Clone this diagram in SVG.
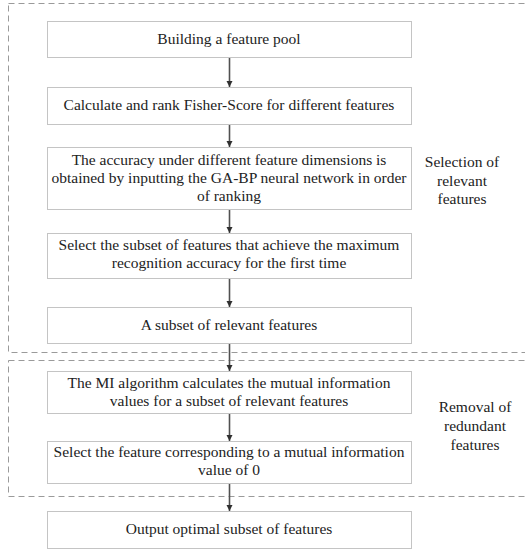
<svg xmlns="http://www.w3.org/2000/svg" width="525" height="551" viewBox="0 0 525 551">
<style>
.node rect{fill:#fff;stroke:#c4c4c4;stroke-width:1}
text{font-size:15.5px;fill:#222;text-anchor:middle}
.group{fill:none;stroke:#9a9a9a;stroke-width:1;stroke-dasharray:6 4}
.conn line{stroke:#505050;stroke-width:1.6;marker-end:url(#ah)}
</style>
<defs>
<marker id="ah" viewBox="0 0 10 10" refX="10" refY="5" markerWidth="4" markerHeight="4" orient="auto" markerUnits="strokeWidth">
<path d="M0,0L10,5L0,10z" fill="#303030"/>
</marker>
</defs>
<rect class="group" x="8.5" y="3.5" width="530" height="349"/>
<rect class="group" x="8.5" y="360.5" width="530" height="136"/>
<g font-family="Liberation Serif, Times New Roman, DejaVu Serif, Noto Serif, serif">
<g id="n1" class="node"><rect x="47.5" y="21.5" width="364" height="36"/><text x="229" y="44">Building a feature pool</text></g>
<g id="n2" class="node"><rect x="47.5" y="87.5" width="364" height="37"/><text x="229" y="110">Calculate and rank Fisher-Score for different features</text></g>
<g id="n3" class="node"><rect x="47.5" y="147.5" width="364" height="62"/><text x="229" y="165">The accuracy under different feature dimensions is</text><text x="229" y="183">obtained by inputting the GA-BP neural network in order</text><text x="229" y="201">of ranking</text></g>
<g id="n4" class="node"><rect x="47.5" y="233.5" width="364" height="45"/><text x="229" y="250">Select the subset of features that achieve the maximum</text><text x="229" y="268">recognition accuracy for the first time</text></g>
<g id="n5" class="node"><rect x="47.5" y="307.5" width="364" height="36"/><text x="229" y="330">A subset of relevant features</text></g>
<g id="n6" class="node"><rect x="47.5" y="371.5" width="364" height="42"/><text x="229" y="388">The MI algorithm calculates the mutual information</text><text x="229" y="406">values for a subset of relevant features</text></g>
<g id="n7" class="node"><rect x="47.5" y="441.5" width="364" height="42"/><text x="229" y="457">Select the feature corresponding to a mutual information</text><text x="229" y="475">value of 0</text></g>
<g id="n8" class="node"><rect x="47.5" y="511.5" width="364" height="37"/><text x="229" y="534">Output optimal subset of features</text></g>
<g id="l1"><text x="462" y="167">Selection of</text><text x="462" y="186">relevant</text><text x="462" y="204">features</text></g>
<g id="l2"><text x="475" y="412">Removal of</text><text x="475" y="431">redundant</text><text x="475" y="450">features</text></g>
</g>
<g class="conn">
<line x1="229.5" y1="58" x2="229.5" y2="87"/>
<line x1="229.5" y1="125" x2="229.5" y2="147"/>
<line x1="229.5" y1="210" x2="229.5" y2="233"/>
<line x1="229.5" y1="279" x2="229.5" y2="307"/>
<line x1="229.5" y1="344" x2="229.5" y2="371"/>
<line x1="229.5" y1="414" x2="229.5" y2="441"/>
<line x1="229.5" y1="484" x2="229.5" y2="511"/>
</g>
</svg>
